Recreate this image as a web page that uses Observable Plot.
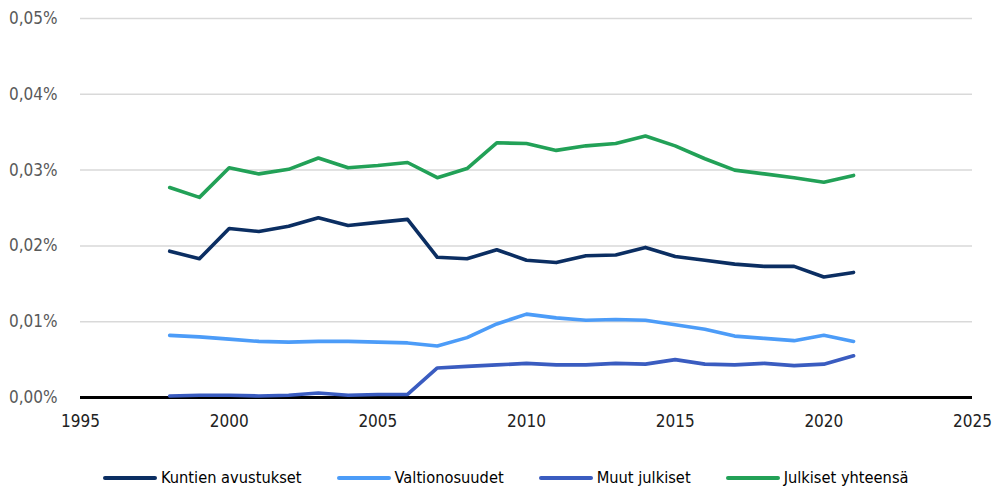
<!DOCTYPE html>
<html>
<head>
<meta charset="utf-8">
<script src="https://cdn.jsdelivr.net/npm/d3@7"></script>
<script src="https://cdn.jsdelivr.net/npm/@observablehq/plot@0.6"></script>
<style>
  html, body { margin: 0; padding: 0; background: #fff; }
  body { width: 994px; height: 493px; overflow: hidden; font-family: "Liberation Sans Narrow", "DejaVu Sans Condensed", sans-serif; }
  #chart svg { display: block; }
  .legend { display: flex; align-items: center; margin-top: 28px; padding-left: 103px; font-size: 16.3px; color: #000; }
  .item { display: flex; align-items: center; margin-right: 35px; }
  .sw { width: 54px; height: 4px; border-radius: 2px; margin-right: 4px; }
</style>
</head>
<body>
<div id="chart"></div>
<div class="legend" id="legend"></div>
<script>
const years = [1998,1999,2000,2001,2002,2003,2004,2005,2006,2007,2008,2009,2010,2011,2012,2013,2014,2015,2016,2017,2018,2019,2020,2021];
const seriesNames = ["Kuntien avustukset", "Valtionosuudet", "Muut julkiset", "Julkiset yhteensä"];
const seriesColors = ["#0b2e62", "#4c9cf8", "#3a5cc0", "#22a157"];
const kuntien = [0.0193,0.0183,0.0223,0.0219,0.0226,0.0237,0.0227,0.0231,0.0235,0.0185,0.0183,0.0195,0.0181,0.0178,0.0187,0.0188,0.0198,0.0186,0.0181,0.0176,0.0173,0.0173,0.0159,0.0165];
const valtion = [0.0082,0.0080,0.0077,0.0074,0.0073,0.0074,0.0074,0.0073,0.0072,0.0068,0.0079,0.0097,0.0110,0.0105,0.0102,0.0103,0.0102,0.0096,0.0090,0.0081,0.0078,0.0075,0.0082,0.0074];
const muut = [0.0002,0.0003,0.0003,0.0002,0.0003,0.0006,0.0003,0.0004,0.0004,0.0039,0.0041,0.0043,0.0045,0.0043,0.0043,0.0045,0.0044,0.0050,0.0044,0.0043,0.0045,0.0042,0.0044,0.0055];
const yhteensa = [0.0277,0.0264,0.0303,0.0295,0.0301,0.0316,0.0303,0.0306,0.0310,0.0290,0.0302,0.0336,0.0335,0.0326,0.0332,0.0335,0.0345,0.0332,0.0315,0.0300,0.0295,0.0290,0.0284,0.0293];
const yTicks = [0, 0.01, 0.02, 0.03, 0.04, 0.05];
const xTicks = [1995, 2000, 2005, 2010, 2015, 2020, 2025];

const allSeries = [kuntien, valtion, muut, yhteensa];
const data = [];
allSeries.forEach((vals, i) => vals.forEach((v, j) => data.push({year: years[j], value: v, series: seriesNames[i]})));

const plot = Plot.plot({
  width: 994,
  height: 440,
  marginTop: 18,
  marginBottom: 43,
  marginLeft: 80,
  marginRight: 22,
  style: { fontFamily: '"Liberation Sans Narrow", "DejaVu Sans Condensed", sans-serif', fontSize: "17px", background: "#fff" },
  x: { domain: [1995, 2025] },
  y: { domain: [0, 0.05] },
  color: { domain: seriesNames, range: seriesColors },
  marks: [
    Plot.gridY(yTicks, { stroke: "#d9d9d9", strokeOpacity: 1, strokeWidth: 1.5 }),
    Plot.axisY(yTicks, { tickSize: 0, tickPadding: 23, tickFormat: d => d.toFixed(2).replace(".", ",") + "%", fill: "#595959", label: null }),
    Plot.axisX(xTicks, { tickSize: 0, tickPadding: 17, tickFormat: d => String(d), fill: "#222", label: null }),
    Plot.ruleY([0], { stroke: "#000", strokeWidth: 3 }),
    Plot.line(data, { x: "year", y: "value", z: "series", stroke: "series", strokeWidth: 3.6, strokeLinejoin: "round", strokeLinecap: "round" })
  ]
});
document.getElementById("chart").appendChild(plot);

const legend = document.getElementById("legend");
seriesNames.forEach((name, i) => {
  const item = document.createElement("div");
  item.className = "item";
  const sw = document.createElement("span");
  sw.className = "sw";
  sw.style.background = seriesColors[i];
  const t = document.createElement("span");
  t.textContent = name;
  item.appendChild(sw);
  item.appendChild(t);
  legend.appendChild(item);
});
</script>
</body>
</html>
